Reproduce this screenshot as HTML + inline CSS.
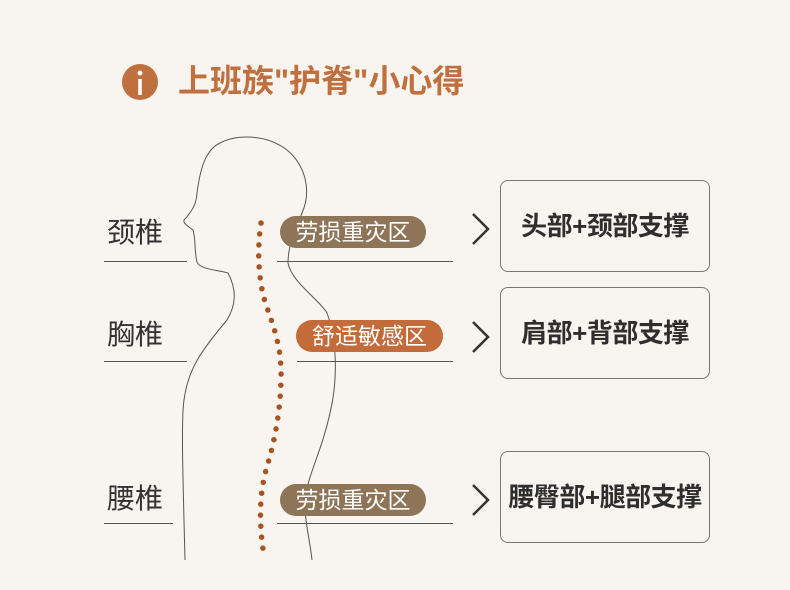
<!DOCTYPE html>
<html><head><meta charset="utf-8"><style>
body{margin:0;width:790px;height:590px;background:#f8f4ef;position:relative;overflow:hidden;font-family:"Liberation Sans","Noto Sans CJK SC",sans-serif}
.a{position:absolute;white-space:nowrap}
.title{left:178px;top:60px;font-size:32px;font-weight:bold;color:#c0703e;line-height:42px}
.lab{left:107px;font-size:28px;color:#333;line-height:32px}
.pill{color:#fff;font-size:23px;line-height:32px;height:32px;border-radius:16px;text-align:center}
.box{left:500px;width:208px;border:1px solid #7a7570;border-radius:8px;height:90px;line-height:90px;text-align:center;font-size:26px;font-weight:bold;color:#2e2e2e;letter-spacing:-0.5px}
.ln{height:1px;background:#555}
</style></head><body>
<svg class="a" style="left:0;top:0" width="790" height="590">
<circle cx="140" cy="82" r="18" fill="#c0703e"/>
<rect x="138.2" y="79" width="3.6" height="16" fill="#fff"/>
<circle cx="140" cy="73" r="2.4" fill="#fff"/>
<path d="M185,560 C183,480 181,420 184,400 C188,370 200,352 227,320 C236,305 237,290 228,273 C220,270 200,270 197,262 C194,250 196,240 193,230 C188,226 180,222 186,218 C192,210 196,206 197,193 C200,170 205,150 220,143 C235,135 265,133 287,150 C305,165 312,190 302,213 C295,230 288,245 288,263 C292,283 320,300 327,313 C337,340 338,380 330,413 C322,450 310,470 305,497 C304,520 310,540 312,560" fill="none" stroke="#555" stroke-width="1"/>
<path d="M261,223 C257,250 258,280 266,305 C275,330 282,350 281,380 C280,420 272,450 266,470 C258,500 260,530 264,556" fill="none" stroke="#a9531f" stroke-width="5.5" stroke-linecap="round" stroke-dasharray="0 11"/>
<g fill="none" stroke="#333" stroke-width="2.5">
<path d="M473,214 L488,229 L473,244"/>
<path d="M473,322 L488,337 L473,352"/>
<path d="M473,485 L488,500 L473,515"/>
</g>
</svg>
<div class="a title">上班族"护脊"小心得</div>
<div class="a lab" style="top:217px">颈椎</div>
<div class="a lab" style="top:319px">胸椎</div>
<div class="a lab" style="top:483px">腰椎</div>
<div class="a ln" style="left:104px;top:261px;width:83px"></div>
<div class="a ln" style="left:104px;top:361px;width:83px"></div>
<div class="a ln" style="left:104px;top:523px;width:69px"></div>
<div class="a ln" style="left:277px;top:261px;width:176px"></div>
<div class="a ln" style="left:297px;top:361px;width:156px"></div>
<div class="a ln" style="left:277px;top:523px;width:176px"></div>
<div class="a pill" style="left:280px;top:216px;width:146px;background:#8e7558">劳损重灾区</div>
<div class="a pill" style="left:296px;top:320px;width:147px;background:#c46b3b">舒适敏感区</div>
<div class="a pill" style="left:280px;top:484px;width:146px;background:#8e7558">劳损重灾区</div>
<div class="a box" style="top:180px">头部+颈部支撑</div>
<div class="a box" style="top:287px">肩部+背部支撑</div>
<div class="a box" style="top:451px">腰臀部+腿部支撑</div>
</body></html>
